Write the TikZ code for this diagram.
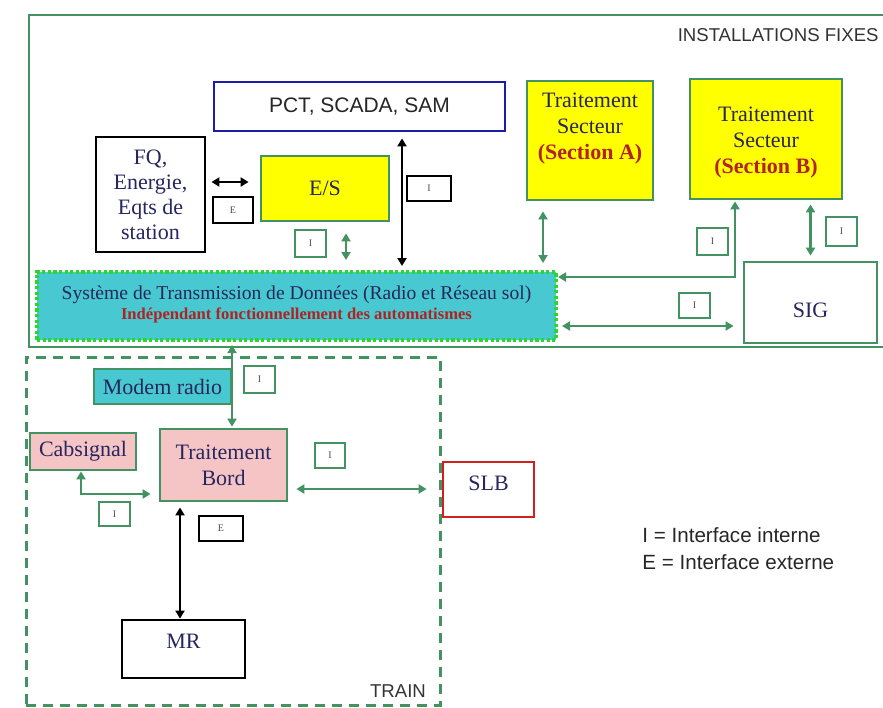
\documentclass[tikz,border=0pt]{standalone}
\usepackage{fontspec}
\setmainfont{Liberation Serif}
\setsansfont{Liberation Sans}
\usetikzlibrary{positioning,calc,arrows.meta}

\definecolor{framegreen}{RGB}{66,146,98}
\definecolor{dotgreen}{RGB}{40,215,50}
\definecolor{navytext}{RGB}{38,38,96}
\definecolor{darkred}{RGB}{178,34,34}
\definecolor{boxyellow}{RGB}{255,255,0}
\definecolor{boxcyan}{RGB}{72,200,208}
\definecolor{boxpink}{RGB}{245,197,197}
\definecolor{pctblue}{RGB}{28,28,168}
\definecolor{slbred}{RGB}{208,32,32}

\begin{document}
\begin{tikzpicture}[
    x=0.5pt, y=-0.5pt,
    every node/.style={font=\fontsize{11}{13}\selectfont, text=navytext},
    wh/.style 2 args={minimum width=#1*0.5pt, minimum height=#2*0.5pt},
    block/.style={rectangle, draw=#1, line width=1.4pt, inner sep=0pt, align=center},
    tag/.style={rectangle, draw=#1, line width=1.2pt, inner sep=0pt, font=\fontsize{5}{5}\selectfont, text=black!70},
    garrow/.style={{Triangle[length=4pt,width=4.5pt]}-{Triangle[length=4pt,width=4.5pt]}, framegreen, line width=1.1pt},
    barrow/.style={{Triangle[length=4pt,width=4.5pt]}-{Triangle[length=4pt,width=4.5pt]}, black, line width=1.3pt},
    sans/.style={font=\sffamily\fontsize{#1}{#1}\selectfont, text=black!80, inner sep=0pt}
]
\useasboundingbox (0,0) rectangle (883,707);

% Frames
\node[draw=framegreen, line width=1pt, wh={871}{332}, inner sep=0pt] (fixed) at (464.5,181) {};
\node[sans=9.3, anchor=east] (fixlabel) at (879,35) {INSTALLATIONS FIXES};
\node[draw=framegreen, line width=1.5pt, dash pattern=on 5pt off 3.5pt, wh={414}{348}, inner sep=0pt] (train) at (233,531) {};
\node[sans=9.3] (trainlabel) at (398,691) {TRAIN};

% Fixed installations
\node[block=pctblue, fill=white, wh={291}{49}, font=\sffamily\fontsize{10.5}{12}\selectfont, text=black!85] (pct) at (359.5,106.5) {PCT, SCADA, SAM};
\node[block=black, fill=white, wh={109}{115}, font=\fontsize{11}{12.5}\selectfont] (fq) at (150.5,194.5) {FQ,\\Energie,\\Eqts de\\station};
\node[block=framegreen, fill=boxyellow, wh={128}{65}] (es) at (325,188.5) {E/S};
\node[block=framegreen, fill=boxyellow, wh={126}{119}] (secA) at (590,140.5) {};
\node[align=center] (secAtext) at (590,128.5) {Traitement\\Secteur\\{\color{darkred}\bfseries (Section A)}};
\node[block=framegreen, fill=boxyellow, wh={152}{120}] (secB) at (766,139) {};
\node[align=center] (secBtext) at (766,142.5) {Traitement\\Secteur\\{\color{darkred}\bfseries (Section B)}};
\node[block=framegreen, fill=white, wh={133}{81}] (sig) at (810.5,302.5) {};
\node (sigtext) at (810.5,310) {SIG};

% Transmission system
\node[rectangle, draw=dotgreen, line width=2pt, dash pattern=on 1.6pt off 1.2pt, fill=boxcyan, wh={519}{68}, inner sep=0pt] (std) at (296.5,306) {};
\node[align=center, font=\fontsize{9.8}{10}\selectfont] (stdtext) at (296.5,304) {Système de Transmission de Données (Radio et Réseau sol)\\{\color{darkred}\bfseries\fontsize{8.3}{9}\selectfont Indépendant fonctionnellement des automatismes}};

% Train
\node[block=framegreen, fill=boxcyan, wh={137}{35}] (modem) at (162.5,386.5) {Modem radio};
\node[block=framegreen, fill=boxpink, wh={106}{37}] (cab) at (83,451.5) {Cabsignal};
\node[block=framegreen, fill=boxpink, wh={127}{72}] (bord) at (223.5,465) {Traitement\\Bord};
\node[block=slbred, fill=white, wh={91}{55}] (slb) at (488.5,489.5) {};
\node (slbtext) at (488.5,483) {SLB};
\node[block=black, fill=white, wh={123}{58}] (mr) at (183.5,649) {};
\node (mrtext) at (183.5,641) {MR};

% Interface tags
\node[tag=black, wh={40}{26}] (tagE1) at (233,210) {E};
\node[tag=framegreen, wh={31}{27}] (tagI1) at (310.5,243.5) {I};
\node[tag=black, wh={44}{25}] (tagI2) at (429,188.5) {I};
\node[tag=framegreen, wh={31}{27}] (tagI3) at (712.5,241.5) {I};
\node[tag=framegreen, wh={31}{29}] (tagI4) at (841.5,231.5) {I};
\node[tag=framegreen, wh={31}{25}] (tagI5) at (694.5,305.5) {I};
\node[tag=framegreen, wh={31}{27}] (tagI6) at (259.5,379.5) {I};
\node[tag=framegreen, wh={31}{24}] (tagI7) at (114.5,514) {I};
\node[tag=framegreen, wh={30}{25}] (tagI8) at (330,455.5) {I};
\node[tag=black, wh={44}{25}] (tagE2) at (221,528.5) {E};

% Legend
\node[anchor=west, align=left, inner sep=0pt, font=\sffamily\fontsize{10.3}{13.5}\selectfont, text=black!85] (legend) at (642,549) {I = Interface interne\\E = Interface externe};

% Connectors
\draw[barrow, shorten <=2.5pt, shorten >=5.5pt] ([yshift=6.25pt]fq.east) -- ([yshift=6.25pt]fq.east -| es.west);
\draw[garrow, shorten <=5.5pt, shorten >=5pt] ([xshift=10.5pt]es.south) -- ([xshift=10.5pt]es.south |- std.north);
\draw[barrow, shorten <=3pt, shorten >=2pt] ([xshift=21.25pt]pct.south) -- ([xshift=21.25pt]pct.south |- std.north);
\draw[garrow, shorten <=5pt, shorten >=3.5pt] ([xshift=-23.5pt]secA.south) -- ([xshift=-23.5pt]secA.south |- std.north);
\draw[garrow, shorten >=0.5pt] ([yshift=14.5pt]std.east) -| ([xshift=-15.5pt]secB.south);
\draw[garrow, shorten <=2pt, shorten >=4.5pt] ([yshift=-10pt]std.east) -- ([yshift=-10pt]std.east -| sig.west);
\draw[garrow, shorten <=2pt, shorten >=2.5pt] (sig.north |- secB.south) -- (sig.north);
\draw[garrow, shorten <=1.5pt, shorten >=0.5pt] ([xshift=4.25pt]bord.north |- std.south) -- ([xshift=4.25pt]bord.north);
\draw[garrow, shorten >=4pt] ([xshift=-1pt]cab.south) |- ([yshift=-14.5pt]bord.west);
\draw[garrow, shorten <=4pt, shorten >=7.5pt] ([yshift=-12pt]bord.east) -- ([yshift=-12pt]bord.east -| slb.west);
\draw[barrow, shorten <=2.5pt] ([xshift=-21.75pt]bord.south) -- ([xshift=-21.75pt]bord.south |- mr.north);

\end{tikzpicture}
\end{document}
